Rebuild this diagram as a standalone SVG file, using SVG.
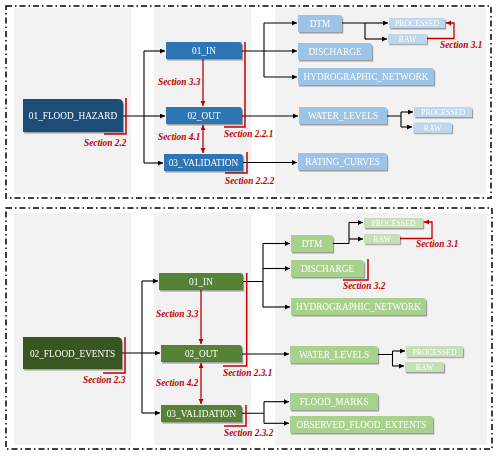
<svg xmlns="http://www.w3.org/2000/svg" width="500" height="456" viewBox="0 0 500 456">
<defs>
<marker id="ab" markerUnits="userSpaceOnUse" markerWidth="6" markerHeight="6" refX="5" refY="2.5" orient="auto-start-reverse"><path d="M0,0 L5,2.5 L0,5 z" fill="#000"/></marker>
<marker id="ar" markerUnits="userSpaceOnUse" markerWidth="6" markerHeight="6" refX="5" refY="2.5" orient="auto-start-reverse"><path d="M0,0 L5,2.5 L0,5 z" fill="#c00000"/></marker>
<filter id="sh" x="-10%" y="-20%" width="130%" height="160%"><feDropShadow dx="1.2" dy="1.5" stdDeviation="0.6" flood-color="#000" flood-opacity="0.35"/></filter>
</defs>
<style>
.panel{fill:#fff;stroke:#000;stroke-width:1.5;stroke-dasharray:6 3 1.5 3}
.col{fill:#f2f2f2}
.n{filter:url(#sh)}
.t{font-family:"Liberation Serif","Times New Roman",serif;font-size:9.3px;fill:#fff;text-anchor:middle}
.ts{font-family:"Liberation Serif","Times New Roman",serif;font-size:7.8px;fill:#fff;text-anchor:middle}
.lab{font-family:"Liberation Serif","Times New Roman",serif;font-size:9.3px;font-weight:bold;font-style:italic;fill:#c00000}
.c{fill:none;stroke:#000;stroke-width:1.1}
.ca{fill:none;stroke:#000;stroke-width:1.1;marker-end:url(#ab)}
.r{fill:none;stroke:#c00000;stroke-width:1.5}
.ra{fill:none;stroke:#c00000;stroke-width:1.3;marker-end:url(#ar)}
.rd{fill:none;stroke:#c00000;stroke-width:1.3;marker-end:url(#ar);marker-start:url(#ar)}
.hz{fill:#1f4e79}.bm{fill:#2e75b6}.bl{fill:#9dc3e6}.bx{fill:#bdd7ee}
.ev{fill:#385723}.gm{fill:#548235}.gl{fill:#a9d18e}.gx{fill:#c5e0b4}
</style>

<g id="panels">
<rect class="panel" x="6" y="6" width="485" height="192"/>
<rect class="col" x="14" y="8" width="117" height="186"/>
<rect class="col" x="154" y="8" width="97" height="186"/>
<rect class="col" x="275" y="8" width="211" height="186"/>
<rect class="panel" x="6" y="208" width="486" height="241"/>
<rect class="col" x="14" y="213" width="117" height="232"/>
<rect class="col" x="154" y="213" width="97" height="232"/>
<rect class="col" x="275" y="213" width="212" height="232"/>
</g>

<g id="connectors">
<!-- top -->
<path class="c" d="M123,116 H144 M144,51 V163"/>
<path class="ca" d="M144,51 H165"/>
<path class="ca" d="M144,116 H165"/>
<path class="ca" d="M144,163 H163"/>
<path class="ca" d="M242,51 H297"/>
<path class="c" d="M264,23 V77"/>
<path class="ca" d="M264,23 H297"/>
<path class="ca" d="M264,77 H297"/>
<path class="c" d="M342,23 H365 V39"/>
<path class="ca" d="M365,23 H388"/>
<path class="ca" d="M365,39 H387"/>
<path class="ca" d="M242,116 H298"/>
<path class="c" d="M387,116 H401 M401,112 V127"/>
<path class="ca" d="M401,112 H413"/>
<path class="ca" d="M401,127 H412"/>
<path class="ca" d="M243,162.5 H297"/>
<!-- bottom -->
<path class="c" d="M122,353 H142 M142,281 V413"/>
<path class="ca" d="M142,281 H158"/>
<path class="ca" d="M142,353 H160"/>
<path class="ca" d="M142,413 H160"/>
<path class="c" d="M243,281.5 H263 M263,243.5 V307"/>
<path class="ca" d="M263,243.5 H290"/>
<path class="ca" d="M263,268.5 H290"/>
<path class="ca" d="M263,307 H290"/>
<path class="c" d="M333,243.5 H349 M349,222.5 V243.5"/>
<path class="ca" d="M349,222.5 H363"/>
<path class="ca" d="M349,239 H363"/>
<path class="ca" d="M242,354 H289"/>
<path class="c" d="M378,354.5 H392.5 M392.5,351 V366"/>
<path class="ca" d="M392.5,351 H405"/>
<path class="ca" d="M392.5,366 H404"/>
<path class="c" d="M242,413.3 H264 M264,401.7 V423.3"/>
<path class="ca" d="M264,401.7 H289"/>
<path class="ca" d="M264,423.3 H289"/>
<!-- red top -->
<path class="ra" d="M203,59 V106"/>
<path class="rd" d="M203,125 V153"/>
<path class="r" d="M126,98 V134 H104"/>
<path class="r" d="M245,42 V127 H224"/>
<path class="r" d="M247,152 V173 H225"/>
<path class="ra" d="M427,38.5 H454 V23 H446"/>
<!-- red bottom -->
<path class="ra" d="M201,290 V344"/>
<path class="rd" d="M201,363 V404"/>
<path class="r" d="M125,337 V373 H103"/>
<path class="r" d="M246.7,273 V366 H223"/>
<path class="r" d="M246,405 V426 H224"/>
<path class="r" d="M368,259 V280 H343"/>
<path class="ra" d="M400,238.5 H432 V222 H424"/>
</g>

<g id="labels">
<text class="lab" x="84" y="146">Section 2.2</text>
<text class="lab" x="158" y="85">Section 3.3</text>
<text class="lab" x="158" y="140">Section 4.1</text>
<text class="lab" x="224" y="137">Section 2.2.1</text>
<text class="lab" x="225" y="184">Section 2.2.2</text>
<text class="lab" x="440" y="48">Section 3.1</text>
<text class="lab" x="83" y="383">Section 2.3</text>
<text class="lab" x="156" y="317">Section 3.3</text>
<text class="lab" x="156" y="386">Section 4.2</text>
<text class="lab" x="223" y="376">Section 2.3.1</text>
<text class="lab" x="224" y="436">Section 2.3.2</text>
<text class="lab" x="416" y="247">Section 3.1</text>
<text class="lab" x="343" y="289">Section 3.2</text>
</g>

<!-- top panel nodes -->
<g id="flood_hazard" class="n"><path class="hz" d="M23,99 H118 Q123,99 123,104 V132 H23 Z"/><text class="t" x="73" y="119">01_FLOOD_HAZARD</text></g>
<g id="hz_in" class="n"><path class="bm" d="M166,42 H239 Q242,42 242,45 V59 H166 Z"/><text class="t" x="204" y="54">01_IN</text></g>
<g id="hz_out" class="n"><path class="bm" d="M166,107 H239 Q242,107 242,110 V124 H166 Z"/><text class="t" x="204" y="119">02_OUT</text></g>
<g id="hz_validation" class="n"><path class="bm" d="M164,154 H240 Q243,154 243,157 V171 H164 Z"/><text class="t" x="203.5" y="166">03_VALIDATION</text></g>
<g id="hz_dtm" class="n"><path class="bl" d="M298,15 H339 Q342,15 342,18 V32 H298 Z"/><text class="t" x="320" y="27">DTM</text></g>
<g id="hz_discharge" class="n"><path class="bl" d="M298,43 H369 Q372,43 372,46 V60 H298 Z"/><text class="t" x="335" y="55">DISCHARGE</text></g>
<g id="hz_hydro" class="n"><path class="bl" d="M298,68 H431 Q434,68 434,71 V85 H298 Z"/><text class="t" x="366" y="80">HYDROGRAPHIC_NETWORK</text></g>
<g id="hz_water" class="n"><path class="bl" d="M299,107 H384 Q387,107 387,110 V124 H299 Z"/><text class="t" x="343" y="119">WATER_LEVELS</text></g>
<g id="hz_rating" class="n"><path class="bl" d="M298,153 H384 Q387,153 387,156 V170 H298 Z"/><text class="t" x="342.5" y="165">RATING_CURVES</text></g>
<g id="hz_dtm_processed" class="n"><path class="bx" d="M389,18 H443 Q445,18 445,20 V28 H389 Z"/><text class="ts" x="417" y="26">PROCESSED</text></g>
<g id="hz_dtm_raw" class="n"><path class="bx" d="M388,34 H425 Q427,34 427,36 V43.5 H388 Z"/><text class="ts" x="407.5" y="41.5">RAW</text></g>
<g id="hz_wl_processed" class="n"><path class="bx" d="M414,107 H470 Q472,107 472,109 V117 H414 Z"/><text class="ts" x="443" y="115">PROCESSED</text></g>
<g id="hz_wl_raw" class="n"><path class="bx" d="M413,122.5 H450 Q452,122.5 452,124.5 V132.5 H413 Z"/><text class="ts" x="432.5" y="130.5">RAW</text></g>

<!-- bottom panel nodes -->
<g id="flood_events" class="n"><path class="ev" d="M23,337 H117 Q122,337 122,342 V369 H23 Z"/><text class="t" x="72.5" y="356.5">02_FLOOD_EVENTS</text></g>
<g id="ev_in" class="n"><path class="gm" d="M159,273 H240 Q243,273 243,276 V290 H159 Z"/><text class="t" x="201" y="285">01_IN</text></g>
<g id="ev_out" class="n"><path class="gm" d="M161,345 H239 Q242,345 242,348 V362 H161 Z"/><text class="t" x="201.5" y="357">02_OUT</text></g>
<g id="ev_validation" class="n"><path class="gm" d="M161,405 H239 Q242,405 242,408 V422 H161 Z"/><text class="t" x="201.5" y="417">03_VALIDATION</text></g>
<g id="ev_dtm" class="n"><path class="gl" d="M291,235 H330 Q333,235 333,238 V252 H291 Z"/><text class="t" x="312" y="247">DTM</text></g>
<g id="ev_discharge" class="n"><path class="gl" d="M291,260 H361 Q364,260 364,263 V277 H291 Z"/><text class="t" x="327.5" y="272">DISCHARGE</text></g>
<g id="ev_hydro" class="n"><path class="gl" d="M291,298 H423 Q426,298 426,301 V315 H291 Z"/><text class="t" x="358.5" y="310">HYDROGRAPHIC_NETWORK</text></g>
<g id="ev_water" class="n"><path class="gl" d="M290,346 H375 Q378,346 378,349 V363 H290 Z"/><text class="t" x="334" y="358">WATER_LEVELS</text></g>
<g id="ev_marks" class="n"><path class="gl" d="M290,393 H375 Q378,393 378,396 V410 H290 Z"/><text class="t" x="334" y="405">FLOOD_MARKS</text></g>
<g id="ev_extents" class="n"><path class="gl" d="M290,416 H430 Q433,416 433,419 V433 H290 Z"/><text class="t" x="361.5" y="428">OBSERVED_FLOOD_EXTENTS</text></g>
<g id="ev_dtm_processed" class="n"><path class="gx" d="M364,218 H421 Q423,218 423,220 V228 H364 Z"/><text class="ts" x="393.5" y="226">PROCESSED</text></g>
<g id="ev_dtm_raw" class="n"><path class="gx" d="M364,234 H398 Q400,234 400,236 V243.5 H364 Z"/><text class="ts" x="382" y="241.5">RAW</text></g>
<g id="ev_wl_processed" class="n"><path class="gx" d="M406,346 H461 Q463,346 463,348 V356.5 H406 Z"/><text class="ts" x="434.5" y="354.5">PROCESSED</text></g>
<g id="ev_wl_raw" class="n"><path class="gx" d="M405,362 H442 Q444,362 444,364 V372 H405 Z"/><text class="ts" x="424.5" y="370">RAW</text></g>
</svg>
